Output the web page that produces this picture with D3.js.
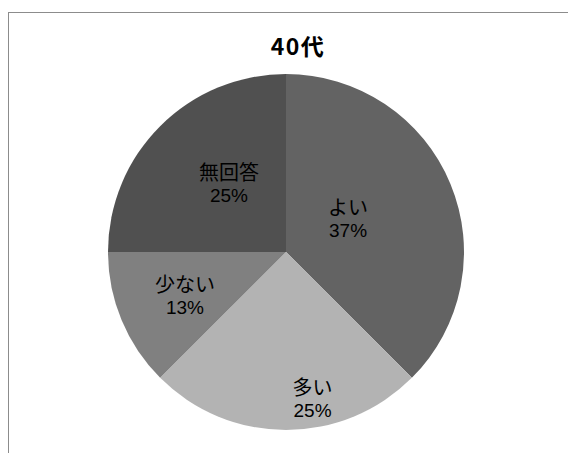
<!DOCTYPE html>
<html><head><meta charset="utf-8">
<script src="https://cdn.jsdelivr.net/npm/d3@7"></script>
<style>html,body{margin:0;padding:0;background:#fff;}</style>
</head><body>
<svg id="chart" width="568" height="453"></svg>
<script>
const title = "40代";
const categories = ["よい", "多い", "少ない", "無回答"];
const values = [37.5, 25, 12.5, 25];
const percentLabels = ["37%", "25%", "13%", "25%"];
const colors = ["#636363", "#b3b3b3", "#808080", "#505050"];
// label placement (layout): [radius px, angle deg clockwise from top]
const labelPlacement = [[70.7, 61.3], [148.4, 169.7], [110, 246.7], [89.1, 320.2]];

const svg = d3.select("#chart");
const cx = 286, cy = 252, R = 178;

svg.append("rect").attr("x", 8.5).attr("y", 12.5).attr("width", 600).attr("height", 500)
  .attr("fill", "#fff").attr("stroke", "#8c8c8c").attr("stroke-width", 1);

svg.append("text").attr("x", 298).attr("y", 45).attr("text-anchor", "middle")
  .attr("dominant-baseline", "central")
  .attr("font-family", "'Noto Sans CJK JP', sans-serif").attr("font-weight", "bold")
  .attr("font-size", 23).attr("letter-spacing", 1.5).attr("fill", "#000").text(title);

const pie = d3.pie().sort(null).value(d => d.v);
const data = categories.map((c, i) => ({c, v: values[i], p: percentLabels[i], col: colors[i], lp: labelPlacement[i]}));
const arcs = pie(data);
const arc = d3.arc().innerRadius(0).outerRadius(R);
const g = svg.append("g").attr("transform", `translate(${cx},${cy})`);
g.selectAll("path").data(arcs).join("path").attr("d", arc).attr("fill", d => d.data.col);

const lab = g.selectAll("g.lab").data(arcs).join("g").attr("class", "lab")
  .attr("transform", d => {
    const [r, a] = d.data.lp; const t = a * Math.PI / 180;
    return `translate(${r * Math.sin(t)},${-r * Math.cos(t)})`;
  });
lab.append("text").attr("y", -12).attr("text-anchor", "middle").attr("dominant-baseline", "central")
  .attr("font-family", "'Noto Sans CJK JP', sans-serif").attr("font-size", 20).attr("fill", "#000")
  .text(d => d.data.c);
lab.append("text").attr("y", 12).attr("text-anchor", "middle").attr("dominant-baseline", "central")
  .attr("font-family", "'Liberation Sans Narrow', 'Liberation Sans', sans-serif").attr("font-size", 19).attr("fill", "#000")
  .text(d => d.data.p);
</script>
</body></html>
